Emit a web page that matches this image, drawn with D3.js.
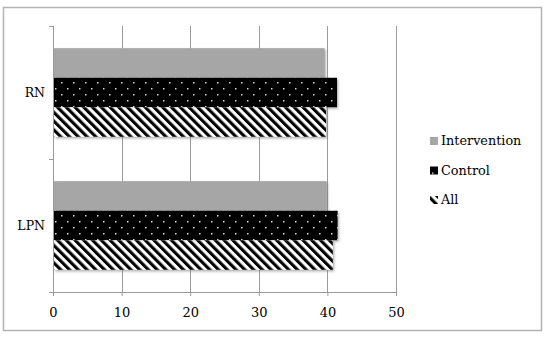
<!DOCTYPE html>
<html>
<head>
<meta charset="utf-8">
<script src="https://d3js.org/d3.v7.min.js"></script>
<style>
  body { margin: 0; background: #fff; }
  svg text { font-family: "DejaVu Serif", serif; fill: #000; }
</style>
</head>
<body>
<div id="chart"></div>
<script>
// data
var categories = ["RN", "LPN"];
var series = ["Intervention", "Control", "All"];
var intervention = [39.6, 39.9];
var control = [41.4, 41.5];
var all = [39.8, 40.8];
var xTicks = [0, 10, 20, 30, 40, 50];

var width = 546, height = 337;
var margin = {top: 26, right: 150, bottom: 45, left: 53};
var plotW = 396 - margin.left, plotH = 292 - margin.top;
var serif = "'DejaVu Serif', serif";

var svg = d3.select("#chart").append("svg")
  .attr("width", width)
  .attr("height", height);

var defs = svg.append("defs");

// dotted pattern for Control
var dots = defs.append("pattern")
  .attr("id", "dots")
  .attr("patternUnits", "userSpaceOnUse")
  .attr("width", 12).attr("height", 12);
dots.append("rect").attr("width", 12).attr("height", 12).attr("fill", "#000");
dots.append("rect").attr("x", 2).attr("y", 2).attr("width", 1.5).attr("height", 1.5).attr("fill", "#d8d8d8");
dots.append("rect").attr("x", 8).attr("y", 8).attr("width", 1.5).attr("height", 1.5).attr("fill", "#d8d8d8");

// diagonal stripes for All
var hatch = defs.append("pattern")
  .attr("id", "hatch")
  .attr("patternUnits", "userSpaceOnUse")
  .attr("width", 6.2).attr("height", 6.2)
  .attr("patternTransform", "rotate(-45)");
hatch.append("rect").attr("width", 6.2).attr("height", 6.2).attr("fill", "#fff");
hatch.append("rect").attr("width", 3.1).attr("height", 6.2).attr("fill", "#000");

var shadow = defs.append("filter").attr("id", "shadow")
  .attr("x", "-5%").attr("y", "-20%").attr("width", "110%").attr("height", "150%");
shadow.append("feDropShadow")
  .attr("dx", 1.2).attr("dy", 1.5).attr("stdDeviation", 0.8)
  .attr("flood-color", "#777").attr("flood-opacity", 0.6);

var fills = {Intervention: "#a6a6a6", Control: "url(#dots)", All: "url(#hatch)"};

// outer border
svg.append("rect")
  .attr("x", 3.5).attr("y", 7.5)
  .attr("width", 538).attr("height", 323)
  .attr("fill", "none")
  .attr("stroke", "#b3b3b3")
  .attr("stroke-width", 1.5);

var g = svg.append("g")
  .attr("transform", "translate(" + margin.left + "," + margin.top + ")");

var x = d3.scaleLinear().domain([0, 50]).range([0, plotW]);
var y0 = d3.scaleBand().domain(categories).range([0, plotH]);
var y1 = d3.scaleBand().domain(series).range([0, y0.bandwidth()])
  .paddingInner(0).paddingOuter(0.75);

// gridlines
g.selectAll(".grid")
  .data(xTicks.slice(1))
  .enter().append("line")
  .attr("class", "grid")
  .attr("x1", function(d) { return Math.round(x(d)) + 0.5; })
  .attr("x2", function(d) { return Math.round(x(d)) + 0.5; })
  .attr("y1", 0).attr("y2", plotH)
  .attr("stroke", "#9a9a9a");

var rows = categories.map(function(c, i) {
  return {cat: c, values: [
    {key: "Intervention", value: intervention[i]},
    {key: "Control", value: control[i]},
    {key: "All", value: all[i]}
  ]};
});

var groups = g.selectAll(".group")
  .data(rows)
  .enter().append("g")
  .attr("class", "group")
  .attr("transform", function(d) { return "translate(0," + y0(d.cat) + ")"; });

groups.selectAll("rect")
  .data(function(d) { return d.values; })
  .enter().append("rect")
  .attr("x", x(0) + 1)
  .attr("y", function(d) { return y1(d.key); })
  .attr("width", function(d) { return x(d.value) - x(0) - 1; })
  .attr("height", y1.bandwidth())
  .attr("fill", function(d) { return fills[d.key]; })
  .attr("filter", "url(#shadow)");

// x axis
var xAxis = d3.axisBottom(x).tickValues(xTicks).tickSize(4).tickPadding(12);
var gx = g.append("g")
  .attr("transform", "translate(0," + plotH + ")")
  .call(xAxis)
  .attr("font-family", serif)
  .attr("font-size", 13);
gx.select(".domain").attr("stroke", "#9a9a9a");
gx.selectAll(".tick line").attr("stroke", "#9a9a9a");

// y axis: ticks at band boundaries, labels at band centres
g.append("line")
  .attr("x1", 0.5).attr("x2", 0.5)
  .attr("y1", 0).attr("y2", plotH)
  .attr("stroke", "#9a9a9a");
var bounds = [0].concat(categories.map(function(c) { return y0(c) + y0.bandwidth(); }));
g.selectAll(".ytick")
  .data(bounds)
  .enter().append("line")
  .attr("x1", -4).attr("x2", 0.5)
  .attr("y1", function(d) { return Math.round(d) + 0.5; })
  .attr("y2", function(d) { return Math.round(d) + 0.5; })
  .attr("stroke", "#9a9a9a");
g.selectAll(".ylabel")
  .data(categories)
  .enter().append("text")
  .attr("x", -8)
  .attr("y", function(d) { return y0(d) + y0.bandwidth() / 2; })
  .attr("dy", "0.35em")
  .style("text-anchor", "end")
  .style("font-family", serif)
  .style("font-size", "12.5px")
  .text(function(d) { return d; });

// legend
var legend = svg.selectAll(".legend")
  .data(series)
  .enter().append("g")
  .attr("class", "legend")
  .attr("transform", function(d, i) { return "translate(430," + (141 + i * 29.5) + ")"; });
legend.append("rect")
  .attr("x", 0).attr("y", -4)
  .attr("width", 8).attr("height", 8)
  .attr("fill", function(d) { return fills[d]; });
legend.append("text")
  .attr("x", 11)
  .attr("dy", "0.35em")
  .style("font-family", serif)
  .style("font-size", "12.8px")
  .text(function(d) { return d; });
</script>
</body>
</html>
